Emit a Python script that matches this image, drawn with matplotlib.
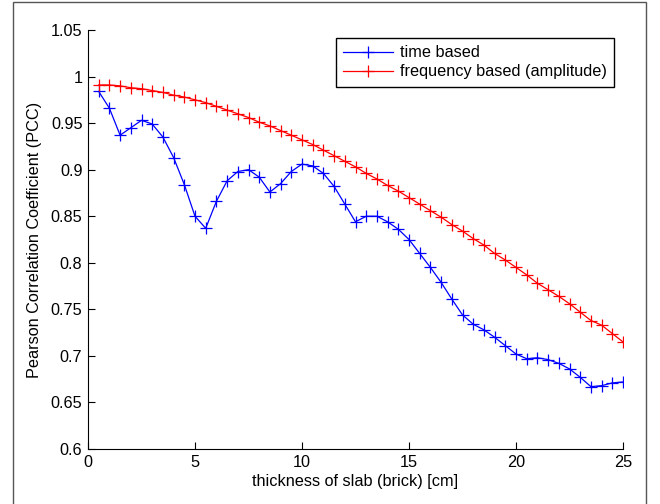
import numpy as np
import matplotlib
matplotlib.use('Agg')
import matplotlib.pyplot as plt
from matplotlib.ticker import FuncFormatter

plt.rcParams['font.family'] = ['Liberation Sans', 'DejaVu Sans']

# thickness of slab in cm
thickness = np.arange(1, 51) * 0.5

# PCC, time based
pcc_time = [0.984, 0.966, 0.937, 0.945, 0.953, 0.949, 0.935, 0.913, 0.884, 0.850,
            0.837, 0.866, 0.888, 0.898, 0.900, 0.892, 0.876, 0.885, 0.898, 0.906,
            0.904, 0.896, 0.882, 0.863, 0.844, 0.850, 0.850, 0.844, 0.836, 0.825,
            0.810, 0.795, 0.779, 0.761, 0.744, 0.734, 0.728, 0.720, 0.711, 0.702,
            0.697, 0.698, 0.696, 0.692, 0.686, 0.677, 0.667, 0.668, 0.671, 0.672]

# PCC, frequency based (amplitude)
pcc_freq = [0.991, 0.991, 0.990, 0.988, 0.987, 0.985, 0.983, 0.980, 0.978, 0.975,
            0.972, 0.968, 0.964, 0.960, 0.956, 0.951, 0.947, 0.942, 0.937, 0.932,
            0.927, 0.921, 0.915, 0.909, 0.903, 0.896, 0.890, 0.883, 0.877, 0.870,
            0.863, 0.856, 0.849, 0.841, 0.834, 0.826, 0.819, 0.810, 0.803, 0.795,
            0.787, 0.778, 0.771, 0.764, 0.756, 0.747, 0.738, 0.733, 0.724, 0.715]

fs = 11.7

fig = plt.figure(figsize=(6.6, 5.04), dpi=100)
ax = fig.add_axes([88/660, 1 - 449/504, (623 - 88)/660, (449 - 30)/504])

# outer frame of the exported picture
fig.patches.append(plt.Rectangle((13/660, -0.01), (646 - 13)/660, 1.01 - 2/504,
                                 transform=fig.transFigure, fill=False,
                                 edgecolor='#555555', linewidth=1.0))

ax.plot(thickness, pcc_time, color='b', marker='+', markersize=8,
        linewidth=0.9, markeredgewidth=0.9, label='time based')
ax.plot(thickness, pcc_freq, color='r', marker='+', markersize=8,
        linewidth=0.9, markeredgewidth=0.9, label='frequency based (amplitude)')

ax.set_xlim(0, 25)
ax.set_ylim(0.6, 1.05)
ax.set_xticks([0, 5, 10, 15, 20, 25])
ax.set_yticks(np.arange(12, 22) * 0.05)
ax.yaxis.set_major_formatter(FuncFormatter(lambda v, p: '%g' % round(v, 2)))

ax.spines['top'].set_visible(False)
ax.spines['right'].set_visible(False)
for s in ['left', 'bottom']:
    ax.spines[s].set_linewidth(0.8)
ax.tick_params(direction='in', length=5, width=0.8, labelsize=fs, pad=4)

ax.set_xlabel('thickness of slab (brick) [cm]', fontsize=fs, labelpad=3)
ax.set_ylabel('Pearson Correlation Coefficient (PCC)', fontsize=fs, labelpad=6)

leg = ax.legend(loc='upper right', bbox_to_anchor=(614/660, 1 - 38/504),
                bbox_transform=fig.transFigure, fontsize=fs, fancybox=False,
                framealpha=1, edgecolor='black', borderpad=0.45, labelspacing=0.25,
                handlelength=3.1, handletextpad=0.4, borderaxespad=0,
                markerscale=1.0, numpoints=1)
leg.get_frame().set_linewidth(1.0)

fig.savefig('out.png', dpi=100)
